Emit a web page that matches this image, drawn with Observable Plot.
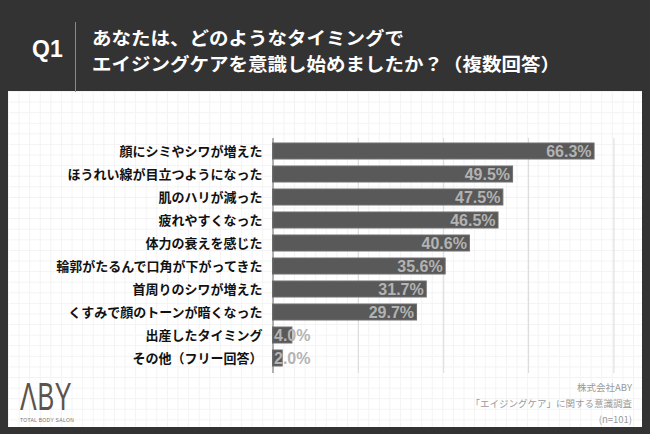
<!DOCTYPE html>
<html><head><meta charset="utf-8">
<script src="https://cdn.jsdelivr.net/npm/d3@7"></script>
<script src="https://cdn.jsdelivr.net/npm/@observablehq/plot@0.6"></script>
<style>
html,body{margin:0;padding:0;}
body{width:650px;height:434px;background:#333;position:relative;overflow:hidden;font-family:"Noto Sans CJK JP","Noto Sans",sans-serif;}
#panel{position:absolute;left:8px;top:91px;width:634px;height:336px;background-color:#fff;
 background-image:linear-gradient(to right,#f3f3f3 1px,transparent 1px),linear-gradient(to bottom,#f3f3f3 1px,transparent 1px);
 background-size:10.6px 10.6px;background-position:0 0;}
#q{position:absolute;left:32px;top:36px;color:#fff;font:700 23px "Liberation Sans","Noto Sans",sans-serif;}
#vline{position:absolute;left:75px;top:22px;width:1px;height:70px;background:#8a8a8a;}
.tl{position:absolute;left:92px;color:#fff;font-weight:700;font-size:17.9px;line-height:20px;height:20px;white-space:nowrap;transform:scaleX(1.09);transform-origin:left center;}
#t1{top:27px;}
#t2{top:53px;}
#chart{position:absolute;left:0;top:0;}
#logo{position:absolute;left:20px;top:376px;color:#5d534d;font:400 38px "Liberation Sans Narrow","Liberation Sans",sans-serif;transform:scaleX(0.66);transform-origin:left top;letter-spacing:1px;}
#logosub{position:absolute;left:20px;top:417px;color:#7a706a;font:400 5px "Liberation Sans",sans-serif;letter-spacing:0.3px;}
.src{position:absolute;right:18px;text-align:right;color:#9a9a9a;font-size:9.5px;line-height:11px;white-space:nowrap;}
</style></head>
<body>
<div id="panel"></div>
<div id="q">Q1</div>
<div id="vline"></div>
<div class="tl" id="t1">あなたは、どのようなタイミングで</div>
<div class="tl" id="t2">エイジングケアを意識し始めましたか？（複数回答）</div>
<div id="chart"></div>
<div id="logo">ΛBY</div>
<div id="logosub">TOTAL BODY SALON</div>
<div class="src" style="top:382px">株式会社ABY</div>
<div class="src" style="top:398px">「エイジングケア」に関する意識調査</div>
<div class="src" style="top:414px">(n=101)</div>
<script>
const categories = [
  "顔にシミやシワが増えた",
  "ほうれい線が目立つようになった",
  "肌のハリが減った",
  "疲れやすくなった",
  "体力の衰えを感じた",
  "輪郭がたるんで口角が下がってきた",
  "首周りのシワが増えた",
  "くすみで顔のトーンが暗くなった",
  "出産したタイミング",
  "その他（フリー回答）"
];
const values = [66.3, 49.5, 47.5, 46.5, 40.6, 35.6, 31.7, 29.7, 4.0, 2.0];
const gridTicks = [17.6, 35.2, 52.7, 70.3];

const data = categories.map((c, i) => ({c, v: values[i]}));
const fmt = d => d.v.toFixed(1) + "%";

const chart = Plot.plot({
  width: 650,
  height: 434,
  marginTop: 138,
  marginBottom: 61,
  marginLeft: 272,
  marginRight: 30,
  style: {background: "transparent", fontFamily: "'Noto Sans CJK JP', sans-serif", overflow: "visible"},
  x: {domain: [0, 70.3], range: [272.5, 272.5 + 70.3 * 4.85], axis: null},
  y: {domain: categories, range: [138.5, 369.6], paddingInner: 0.3, paddingOuter: 0.15, label: null},
  marks: [
    Plot.ruleX(gridTicks, {stroke: "#dadada", strokeWidth: 1}),
    Plot.barX(data, {x: "v", y: "c", fill: "#595959", stroke: "#707070", strokeWidth: 1}),
    Plot.ruleX([0], {stroke: "#666", strokeWidth: 1}),
    Plot.axisY({tickSize: 0, tickPadding: 10, fontSize: 13, fontWeight: 700, color: "#111", label: null}),
    Plot.text(data.filter(d => d.v >= 10), {x: "v", y: "c", text: fmt, textAnchor: "end", dx: -3, fill: "#b3b3b3", fontSize: 16, fontWeight: 700, fontFamily: "'Liberation Sans', Arial, sans-serif"}),
    Plot.text(data.filter(d => d.v < 10), {x: 0, y: "c", text: fmt, textAnchor: "start", dx: 1, fill: "#b3b3b3", fontSize: 16, fontWeight: 700, fontFamily: "'Liberation Sans', Arial, sans-serif"})
  ]
});
document.getElementById("chart").appendChild(chart);
</script>
</body></html>
